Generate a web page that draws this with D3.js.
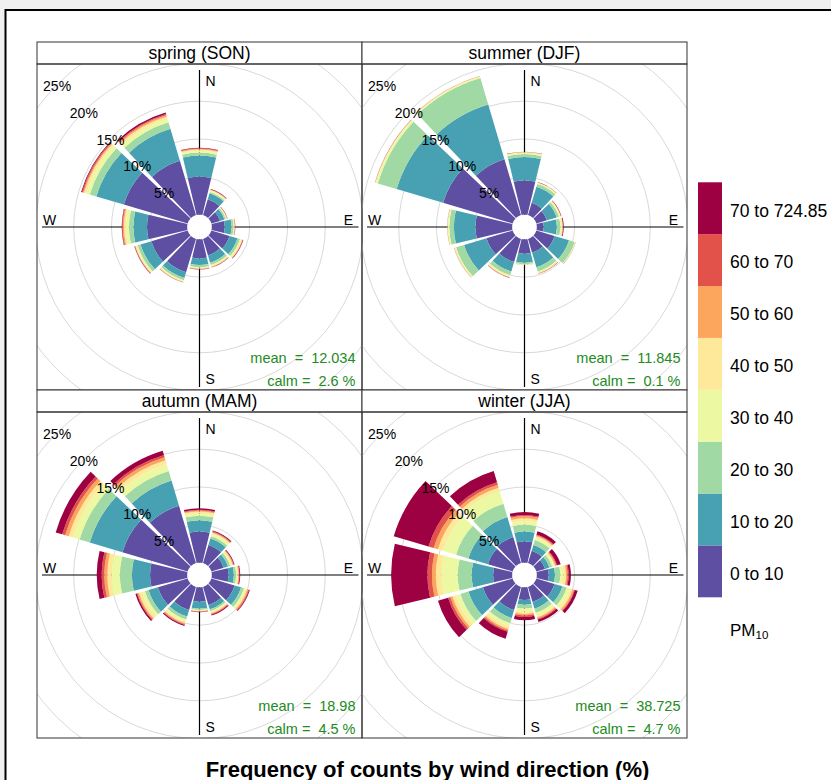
<!DOCTYPE html>
<html>
<head>
<meta charset="utf-8">
<script src="https://cdn.jsdelivr.net/npm/d3@7"></script>
<style>
  body { margin: 0; background: #f0f0f0; }
  svg { display: block; font-family: "Liberation Sans", Arial, sans-serif; }
</style>
</head>
<body>
<script>
// panel titles, in the order they are laid out (left to right, top to bottom)
var seasons = ['spring (SON)', 'summer (DJF)', 'autumn (MAM)', 'winter (JJA)'];
var meanVals = ['12.034', '11.845', '18.98', '38.725'];
var calmVals = ['2.6', '0.1', '4.5', '4.7'];

// wind direction sectors (degrees, centre of each 30 degree petal)
var directions = [0, 30, 60, 90, 120, 150, 180, 210, 240, 270, 300, 330];

// PM10 concentration intervals
var bins = ['0 to 10', '10 to 20', '20 to 30', '30 to 40', '40 to 50', '50 to 60', '60 to 70', '70 to 724.85'];

// grid rings (%)
var gridPct = [5, 10, 15, 20, 25];

// cumulative frequency (%) at the outer edge of each interval, one row per direction
var springCum = [
  [5.0, 7.8, 8.2, 8.45, 8.6, 8.7, 8.78, 8.85],
  [2.2, 3.0, 3.2, 3.35, 3.45, 3.5, 3.55, 3.6],
  [1.2, 1.8, 2.0, 2.1, 2.15, 2.2, 2.22, 2.25],
  [1.7, 2.6, 2.85, 2.95, 3.0, 3.05, 3.08, 3.1],
  [2.5, 3.6, 3.95, 4.15, 4.25, 4.3, 4.35, 4.4],
  [2.3, 3.3, 3.6, 3.75, 3.85, 3.9, 3.93, 3.96],
  [2.5, 3.4, 3.7, 3.8, 3.87, 3.92, 3.95, 3.98],
  [4.6, 5.4, 5.7, 5.85, 5.93, 5.97, 6.0, 6.03],
  [5.0, 6.5, 6.9, 7.1, 7.2, 7.25, 7.3, 7.35],
  [5.3, 7.1, 7.7, 8.1, 8.35, 8.5, 8.6, 8.65],
  [8.8, 12.6, 13.5, 14.0, 14.3, 14.45, 14.6, 14.7],
  [7.5, 11.9, 12.8, 13.3, 13.6, 13.8, 13.95, 14.15]
];
var summerCum = [
  [4.5, 7.6, 8.0, 8.2, 8.25, 8.28, 8.3, 8.32],
  [1.7, 3.9, 4.3, 4.45, 4.5, 4.52, 4.54, 4.56],
  [1.45, 2.8, 3.1, 3.3, 3.35, 3.38, 3.41, 3.45],
  [0.9, 2.65, 3.1, 3.35, 3.4, 3.43, 3.46, 3.55],
  [2.5, 4.5, 5.3, 5.4, 5.42, 5.43, 5.44, 5.45],
  [1.9, 3.9, 4.5, 4.7, 4.75, 4.78, 4.8, 4.82],
  [1.9, 3.1, 3.3, 3.35, 3.37, 3.38, 3.39, 3.4],
  [3.2, 4.5, 5.0, 5.2, 5.3, 5.33, 5.36, 5.4],
  [3.6, 6.7, 7.8, 8.0, 8.03, 8.05, 8.07, 8.08],
  [4.85, 7.7, 8.3, 8.5, 8.53, 8.55, 8.56, 8.57],
  [9.6, 16.0, 18.6, 18.9, 18.95, 18.97, 18.99, 19.0],
  [7.7, 15.25, 18.9, 19.1, 19.15, 19.17, 19.18, 19.2]
];
var autumnCum = [
  [4.1, 5.6, 6.2, 6.5, 6.75, 6.9, 7.0, 7.2],
  [2.5, 3.4, 3.7, 4.0, 4.2, 4.3, 4.4, 4.5],
  [1.7, 2.3, 2.6, 2.8, 2.95, 3.05, 3.1, 3.2],
  [2.2, 2.9, 3.2, 3.4, 3.5, 3.6, 3.65, 3.75],
  [3.2, 4.1, 4.5, 4.75, 4.95, 5.1, 5.2, 5.3],
  [2.5, 3.1, 3.35, 3.5, 3.65, 3.75, 3.85, 3.95],
  [1.9, 2.8, 3.0, 3.1, 3.15, 3.2, 3.25, 3.3],
  [3.2, 4.1, 4.5, 4.8, 5.0, 5.15, 5.25, 5.4],
  [4.1, 5.4, 5.9, 6.3, 6.7, 6.9, 7.0, 7.2],
  [4.9, 7.3, 8.9, 10.0, 10.55, 10.95, 11.3, 11.95],
  [9.0, 13.5, 14.9, 15.8, 16.4, 16.9, 17.3, 18.2],
  [7.9, 11.4, 12.7, 13.65, 14.2, 14.6, 14.9, 15.5]
];
var winterCum = [
  [2.8, 4.1, 5.0, 5.5, 5.85, 6.15, 6.3, 6.7],
  [1.7, 2.5, 3.2, 3.5, 3.7, 3.85, 3.95, 4.4],
  [1.2, 1.8, 2.2, 2.45, 2.6, 2.75, 2.85, 3.35],
  [1.55, 2.4, 3.1, 3.5, 3.85, 4.05, 4.2, 4.5],
  [2.5, 3.6, 4.2, 4.7, 5.0, 5.2, 5.3, 5.7],
  [2.1, 3.0, 3.6, 4.0, 4.2, 4.4, 4.5, 4.85],
  [1.65, 2.3, 2.8, 3.2, 3.5, 3.7, 3.9, 4.35],
  [3.2, 4.3, 5.0, 5.4, 5.8, 6.0, 6.2, 7.15],
  [4.1, 6.1, 7.2, 7.8, 8.3, 8.6, 8.9, 10.3],
  [2.5, 5.35, 7.2, 9.3, 10.1, 10.6, 11.2, 16.0],
  [3.4, 6.1, 7.8, 9.6, 10.3, 10.9, 11.6, 16.4],
  [3.6, 6.35, 8.2, 10.0, 10.4, 10.8, 11.15, 12.7]
];
var seasonCum = [springCum, summerCum, autumnCum, winterCum];

// reversed brewer "Spectral", interpolated to one colour per interval
var spectral = ['#5E4FA2', '#3288BD', '#66C2A5', '#ABDDA4', '#E6F598', '#FFFFBF',
                '#FEE08B', '#FDAE61', '#F46D43', '#D53E4F', '#9E0142'];
var colours = d3.quantize(d3.piecewise(d3.interpolateRgb, spectral), bins.length);

var W = 831, H = 780;
var svg = d3.select('body').append('svg').attr('width', W).attr('height', H);

// plot window frame
svg.append('rect')
  .attr('x', 5.5).attr('y', 10).attr('width', W + 10).attr('height', H + 10)
  .attr('fill', '#fff').attr('stroke', '#000').attr('stroke-width', 2);

// layout of the lattice
var gridLeft = 37, gridTop = 42, panelW = 325, stripH = 22, bodyH = 326;
var half = panelW / 2;

// radial scale : % frequency -> px (offset gives the calm hole)
var r = d3.scaleLinear().domain([0, 25]).range([12.4, 201.4]);
var pad = 1.5 * Math.PI / 180;
var toRad = function(deg) { return deg * Math.PI / 180; };
var arc = d3.arc();

seasons.forEach(function(name, s) {
  var col = s % 2, row = Math.floor(s / 2);
  var x0 = gridLeft + col * panelW;
  var y0 = gridTop + row * (stripH + bodyH);
  var cx = x0 + half, cy = y0 + stripH + bodyH / 2;

  svg.append('clipPath').attr('id', 'clip' + s)
    .append('rect').attr('x', x0).attr('y', y0 + stripH).attr('width', panelW).attr('height', bodyH);

  var body = svg.append('g').attr('clip-path', 'url(#clip' + s + ')');
  var g = body.append('g').attr('transform', 'translate(' + cx + ',' + cy + ')');

  // grid rings
  g.selectAll('circle.grid')
    .data(gridPct.concat([30]))
    .enter().append('circle')
    .attr('class', 'grid')
    .attr('r', function(d) { return r(d); })
    .attr('fill', 'none').attr('stroke', '#d9d9d9').attr('stroke-width', 1);

  // compass axes
  g.append('line').attr('x1', 0).attr('x2', 0).attr('y1', -157).attr('y2', 160)
    .attr('stroke', '#000').attr('stroke-width', 1.2);
  g.append('line').attr('x1', -157.5).attr('x2', 159).attr('y1', 0).attr('y2', 0)
    .attr('stroke', '#000').attr('stroke-width', 1.2);
  g.append('circle').attr('r', r(0)).attr('fill', '#fff');

  // petals: one arc segment per direction and interval
  var segs = [];
  seasonCum[s].forEach(function(cum, i) {
    cum.forEach(function(v, j) {
      segs.push({ dir: directions[i], lo: j === 0 ? 0 : cum[j - 1], hi: v, bin: j });
    });
  });
  g.selectAll('path.petal')
    .data(segs)
    .enter().append('path')
    .attr('class', 'petal')
    .attr('d', function(d) {
      return arc({
        innerRadius: r(d.lo),
        outerRadius: r(d.hi),
        startAngle: toRad(d.dir - 15) + pad,
        endAngle: toRad(d.dir + 15) - pad
      });
    })
    .attr('fill', function(d) { return colours[d.bin]; });

  // % labels along 315 degrees
  var a = toRad(315);
  g.selectAll('text.pct')
    .data(gridPct)
    .enter().append('text')
    .attr('class', 'pct')
    .attr('x', function(d) { return r(d) * Math.sin(a); })
    .attr('y', function(d) { return -r(d) * Math.cos(a) + 6.5; })
    .attr('text-anchor', 'middle')
    .attr('font-size', 14)
    .attr('fill', '#000')
    .text(function(d) { return d + '%'; });

  // compass letters
  g.append('text').attr('x', 6).attr('y', -141.5).attr('font-size', 14).text('N');
  g.append('text').attr('x', 6).attr('y', 156.5).attr('font-size', 14).text('S');
  g.append('text').attr('x', 149).attr('y', -2.5).attr('text-anchor', 'middle').attr('font-size', 14).text('E');
  g.append('text').attr('x', -150).attr('y', -2.5).attr('text-anchor', 'middle').attr('font-size', 14).text('W');

  // mean and calm
  var bottom = y0 + stripH + bodyH;
  svg.append('text').attr('x', x0 + panelW - 6.5).attr('y', bottom - 27)
    .attr('text-anchor', 'end').attr('font-size', 14.5).attr('fill', '#228B22')
    .attr('xml:space', 'preserve')
    .text('mean  =  ' + meanVals[s]);
  svg.append('text').attr('x', x0 + panelW - 6.5).attr('y', bottom - 4)
    .attr('text-anchor', 'end').attr('font-size', 14.5).attr('fill', '#228B22')
    .attr('xml:space', 'preserve')
    .text('calm =  ' + calmVals[s] + ' %');

  // strip
  svg.append('rect').attr('x', x0).attr('y', y0).attr('width', panelW).attr('height', stripH)
    .attr('fill', '#fff').attr('stroke', '#333').attr('stroke-width', 1);
  svg.append('text').attr('x', cx).attr('y', y0 + 17)
    .attr('text-anchor', 'middle').attr('font-size', 17.5).attr('fill', '#000')
    .text(name);

  // panel border
  svg.append('rect').attr('x', x0).attr('y', y0 + stripH).attr('width', panelW).attr('height', bodyH)
    .attr('fill', 'none').attr('stroke', '#333').attr('stroke-width', 1);
});

// legend
var legY = d3.scaleBand().domain(bins.slice().reverse()).range([182.3, 597.3]);
var leg = svg.append('g');
leg.selectAll('rect')
  .data(bins)
  .enter().append('rect')
  .attr('x', 698).attr('width', 24)
  .attr('y', function(d) { return legY(d); })
  .attr('height', legY.bandwidth())
  .attr('fill', function(d, i) { return colours[i]; });
leg.selectAll('text')
  .data(bins)
  .enter().append('text')
  .attr('x', 730)
  .attr('y', function(d) { return legY(d) + legY.bandwidth() / 2 + 8.3; })
  .attr('font-size', 17.5)
  .text(function(d) { return d; });

var pm = leg.append('text').attr('x', 730).attr('y', 636).attr('font-size', 17);
pm.append('tspan').text('PM');
pm.append('tspan').attr('font-size', 11.5).attr('dy', 3).text('10');

// title
svg.append('text')
  .attr('x', 427.5).attr('y', 777)
  .attr('text-anchor', 'middle')
  .attr('font-size', 22).attr('font-weight', 'bold')
  .text('Frequency of counts by wind direction (%)');
</script>
</body>
</html>
